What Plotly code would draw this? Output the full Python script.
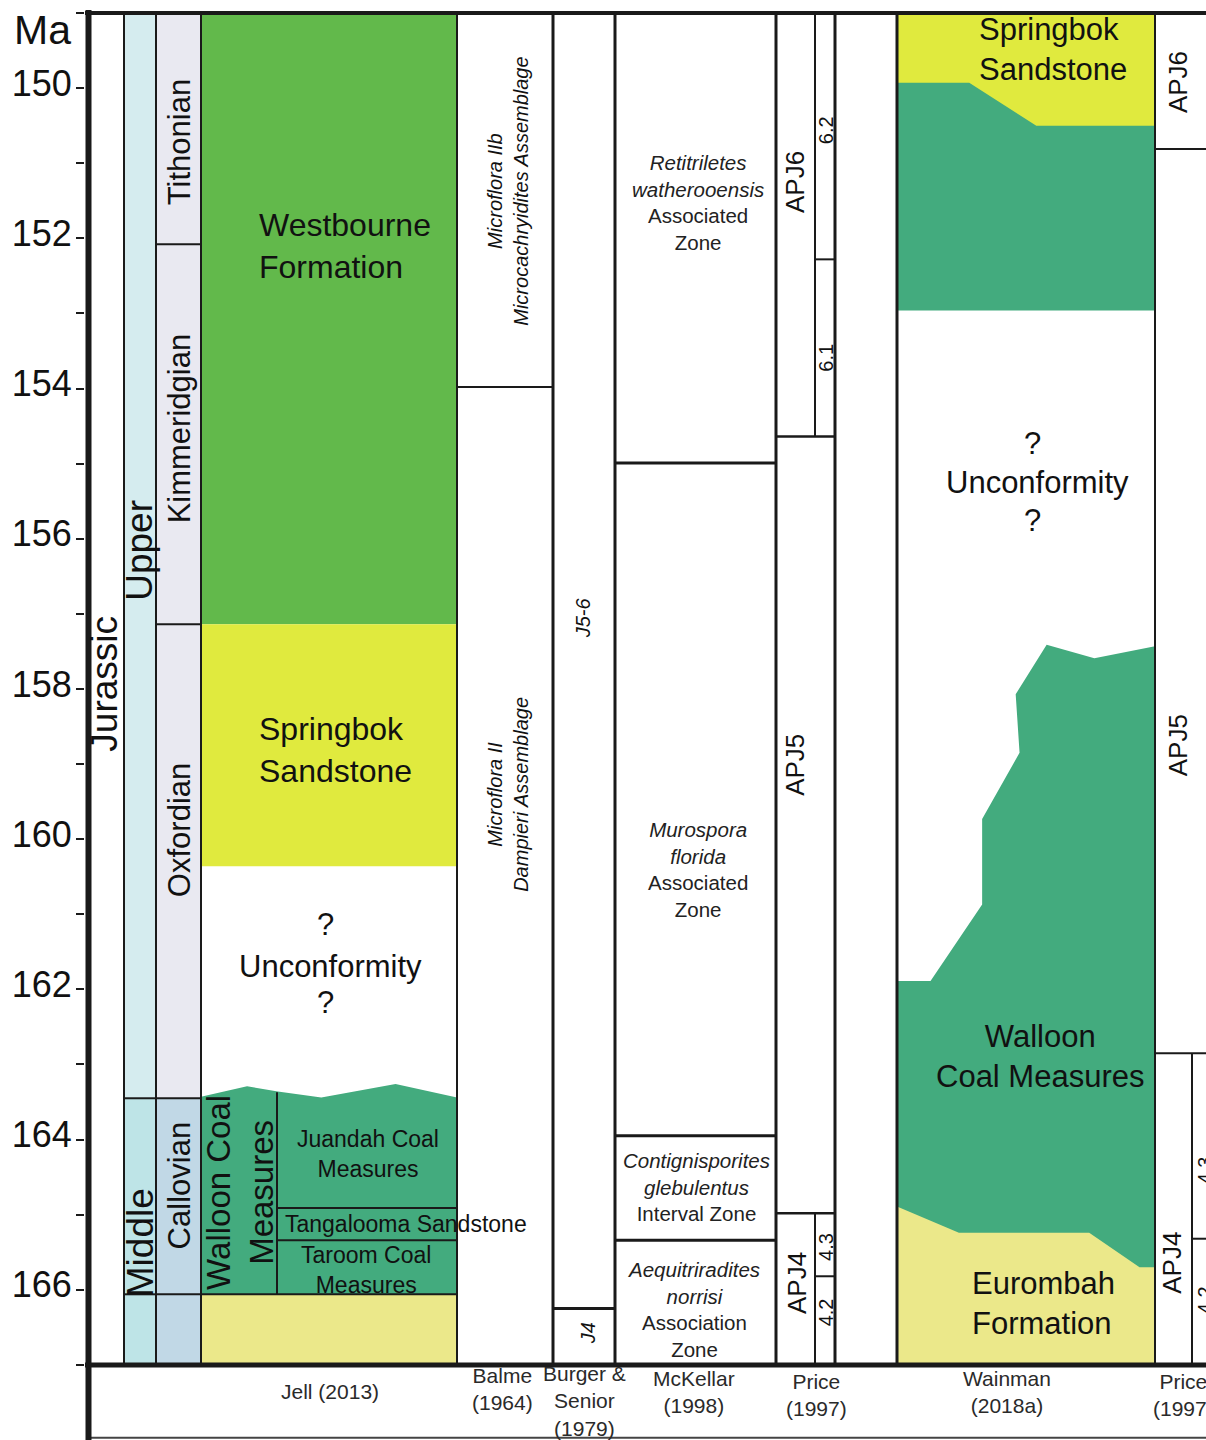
import plotly.graph_objects as go

# ---------------- Chronostratigraphy (ages in Ma) ----------------
EPOCHS = ["Upper", "Middle"]
EPOCH_BOUNDS = [149.0, 163.45, 167.0]
STAGES = ["Tithonian", "Kimmeridgian", "Oxfordian", "Callovian", ""]
STAGE_BOUNDS = [149.0, 152.08, 157.14, 163.45, 166.06, 167.0]

# ---------------- Jell (2013) lithostratigraphy ----------------
JELL_UNITS = ["Westbourne Formation", "Springbok Sandstone", "Unconformity",
              "Walloon Coal Measures", "Eurombah Formation"]
JELL_BOUNDS = [149.0, 157.14, 160.36, 163.45, 166.06, 167.0]
WALLOON_MEMBERS = ["Juandah Coal Measures", "Tangalooma Sandstone", "Taroom Coal Measures"]
WALLOON_MEMBER_BOUNDS = [163.37, 164.91, 165.34, 166.06]
# irregular top of the Walloon Coal Measures (fraction across column, age)
JELL_WALLOON_TOP_FRAC = [0.0, 0.18, 0.30, 0.47, 0.76, 1.0]
JELL_WALLOON_TOP_AGE = [163.43, 163.29, 163.36, 163.44, 163.26, 163.44]

# ---------------- Palynostratigraphic schemes ----------------
BALME_ZONES = ["<i>Microflora IIb</i><br><i>Microcachryidites Assemblage</i>",
               "<i>Microflora II</i><br><i>Dampieri Assemblage</i>"]
BALME_BOUNDS = [149.0, 153.98, 167.0]

BURGER_ZONES = ["<i>J5-6</i>", "<i>J4</i>"]
BURGER_BOUNDS = [149.0, 166.25, 167.0]

MCKELLAR_ZONES = ["<i>Retitriletes</i><br><i>watherooensis</i><br>Associated<br>Zone",
                  "<i>Murospora</i><br><i>florida</i><br>Associated<br>Zone",
                  "<i>Contignisporites</i><br><i>glebulentus</i><br>Interval Zone",
                  "<i>Aequitriradites</i><br><i>norrisi</i><br>Association<br>Zone"]
MCKELLAR_BOUNDS = [149.0, 154.99, 163.95, 165.34, 167.0]

PRICE_ZONES = ["APJ6", "APJ5", "APJ4"]
PRICE_BOUNDS = [149.0, 154.64, 164.98, 167.0]
PRICE_SUBZONES = ["6.2", "6.1", "4.3", "4.2"]
PRICE_SUBZONE_TOPS = [149.0, 152.28, 164.98, 165.82]
PRICE_SUBZONE_BASES = [152.28, 154.64, 165.82, 167.0]

# ---------------- Wainman (2018a) ----------------
WAINMAN_SPRINGBOK_BASE_FRAC = [0.0, 0.28, 0.54, 1.0]
WAINMAN_SPRINGBOK_BASE_AGE = [149.93, 149.93, 150.50, 150.50]
WAINMAN_UPPER_GREEN_BASE = 152.96
WAINMAN_WALLOON_TOP_FRAC = [0.0, 0.13, 0.33, 0.33, 0.475, 0.46, 0.58, 0.765, 1.0]
WAINMAN_WALLOON_TOP_AGE = [161.89, 161.89, 160.87, 159.73, 158.85, 158.07, 157.41, 157.59, 157.43]
WAINMAN_EUROMBAH_TOP_FRAC = [0.0, 0.24, 0.745, 0.94, 1.0]
WAINMAN_EUROMBAH_TOP_AGE = [164.89, 165.24, 165.24, 165.70, 165.70]

PRICE2_ZONES = ["APJ6", "APJ5", "APJ4"]
PRICE2_BOUNDS = [149.0, 150.81, 162.85, 167.0]
PRICE2_SUBZONES = ["4.3", "4.2"]
PRICE2_SUB_BOUNDS = [162.85, 165.32, 167.0]

SOURCES = ["Jell (2013)", "Balme<br>(1964)", "Burger &<br>Senior<br>(1979)", "McKellar<br>(1998)",
           "Price<br>(1997)", "Wainman<br>(2018a)", "Price<br>(1997)"]

Y_TICKS = list(range(149, 168))

# ---------------- layout constants (horizontal columns, px-like units) ----------------
X0 = 85
XMAX = 1206
AX = 88.5
COL_JUR = (91, 124)
COL_EPOCH = (124, 156)
COL_STAGE = (156, 201)
COL_JELL = (201, 457)
JELL_SPLIT = 277
COL_BALME = (457, 553)
COL_BURGER = (553, 615)
COL_MCK = (615, 776)
COL_PRICE = (776, 835)
PRICE_SPLIT = 815
COL_WAIN = (897, 1155)
PRICE2_SPLIT = 1192

C_WEST = "#62b94b"
C_SPRING = "#e0ea3e"
C_WALLOON = "#43ab7e"
C_EUROMBAH = "#ebe88a"
C_UPPER = "#d5ecef"
C_MIDDLE = "#bee4e7"
C_STAGE_U = "#e9e9f1"
C_STAGE_M = "#c1d8e6"
INK = "#1a1a1a"
FONT = "Liberation Sans, Arial, sans-serif"

fig = go.Figure()


def poly(xs, ys, color):
    fig.add_trace(go.Scatter(x=xs, y=ys, mode="lines", fill="toself", fillcolor=color,
                             line=dict(width=0, color=color), hoverinfo="skip", showlegend=False))


def rect(x0, x1, y0, y1, color):
    poly([x0, x1, x1, x0, x0], [y0, y0, y1, y1, y0], color)


def hline(y, x0, x1, w=2, color=INK):
    fig.add_shape(type="line", xref="x", yref="y", x0=x0, x1=x1, y0=y, y1=y,
                  line=dict(color=color, width=w), layer="above")


def vline(x, y0, y1, w=2, color=INK):
    fig.add_shape(type="line", xref="x", yref="y", x0=x, x1=x, y0=y0, y1=y1,
                  line=dict(color=color, width=w), layer="above")


def label(x, y, text, size, angle=0, xanchor="center", align="center", color="#111111"):
    fig.add_annotation(x=x, y=y, xref="x", yref="y", text=text, showarrow=False,
                       textangle=angle, xanchor=xanchor, yanchor="middle", align=align,
                       font=dict(family=FONT, size=size, color=color))


# ---- epoch / stage columns ----
epoch_colors = [C_UPPER, C_MIDDLE]
for i, name in enumerate(EPOCHS):
    rect(COL_EPOCH[0], COL_EPOCH[1], EPOCH_BOUNDS[i], EPOCH_BOUNDS[i + 1], epoch_colors[i])
stage_colors = [C_STAGE_U, C_STAGE_U, C_STAGE_U, C_STAGE_M, C_STAGE_M]
for i, name in enumerate(STAGES):
    rect(COL_STAGE[0], COL_STAGE[1], STAGE_BOUNDS[i], STAGE_BOUNDS[i + 1], stage_colors[i])

# ---- Jell column ----
jw = COL_JELL[1] - COL_JELL[0]
rect(COL_JELL[0], COL_JELL[1], JELL_BOUNDS[0], JELL_BOUNDS[1], C_WEST)
rect(COL_JELL[0], COL_JELL[1], JELL_BOUNDS[1], JELL_BOUNDS[2], C_SPRING)
top_x = [COL_JELL[0] + f * jw for f in JELL_WALLOON_TOP_FRAC]
poly(top_x + [COL_JELL[1], COL_JELL[0], top_x[0]],
     JELL_WALLOON_TOP_AGE + [JELL_BOUNDS[4], JELL_BOUNDS[4], JELL_WALLOON_TOP_AGE[0]], C_WALLOON)
rect(COL_JELL[0], COL_JELL[1], JELL_BOUNDS[4], JELL_BOUNDS[5], C_EUROMBAH)

# ---- Wainman column ----
ww = COL_WAIN[1] - COL_WAIN[0]
sx = [COL_WAIN[0] + f * ww for f in WAINMAN_SPRINGBOK_BASE_FRAC]
rect(COL_WAIN[0], COL_WAIN[1], 149.0, WAINMAN_UPPER_GREEN_BASE, C_WALLOON)
poly([COL_WAIN[0]] + sx + [COL_WAIN[1], COL_WAIN[0]],
     [149.0] + WAINMAN_SPRINGBOK_BASE_AGE + [149.0, 149.0], C_SPRING)
wx = [COL_WAIN[0] + f * ww for f in WAINMAN_WALLOON_TOP_FRAC]
poly(wx + [COL_WAIN[1], COL_WAIN[0], wx[0]],
     WAINMAN_WALLOON_TOP_AGE + [167.0, 167.0, WAINMAN_WALLOON_TOP_AGE[0]], C_WALLOON)
ex = [COL_WAIN[0] + f * ww for f in WAINMAN_EUROMBAH_TOP_FRAC]
poly(ex + [COL_WAIN[1], COL_WAIN[0], ex[0]],
     WAINMAN_EUROMBAH_TOP_AGE + [167.0, 167.0, WAINMAN_EUROMBAH_TOP_AGE[0]], C_EUROMBAH)

# ---- boundary lines ----
for x, w in [(COL_EPOCH[0], 2), (COL_STAGE[0], 2), (COL_JELL[0], 2), (COL_BALME[0], 2),
             (COL_BURGER[0], 3), (COL_MCK[0], 3), (COL_PRICE[0], 3), (COL_PRICE[1], 3),
             (COL_WAIN[0], 3), (COL_WAIN[1], 2)]:
    vline(x, 149.0, 167.0, w)
hline(EPOCH_BOUNDS[1], COL_EPOCH[0], COL_EPOCH[1])
hline(STAGE_BOUNDS[4], COL_EPOCH[0], COL_EPOCH[1])
for b in STAGE_BOUNDS[1:-1]:
    hline(b, COL_STAGE[0], COL_STAGE[1])
vline(JELL_SPLIT, WALLOON_MEMBER_BOUNDS[0], WALLOON_MEMBER_BOUNDS[-1])
for b in WALLOON_MEMBER_BOUNDS[1:-1]:
    hline(b, JELL_SPLIT, COL_JELL[1])
hline(JELL_BOUNDS[4], COL_JELL[0], COL_JELL[1])
for b in BALME_BOUNDS[1:-1]:
    hline(b, COL_BALME[0], COL_BALME[1])
for b in BURGER_BOUNDS[1:-1]:
    hline(b, COL_BURGER[0], COL_BURGER[1], 3)
for b in MCKELLAR_BOUNDS[1:-1]:
    hline(b, COL_MCK[0], COL_MCK[1], 3)
for b in PRICE_BOUNDS[1:-1]:
    hline(b, COL_PRICE[0], COL_PRICE[1], 2.5)
vline(PRICE_SPLIT, PRICE_BOUNDS[0], PRICE_BOUNDS[1])
vline(PRICE_SPLIT, PRICE_BOUNDS[2], PRICE_BOUNDS[3])
hline(PRICE_SUBZONE_BASES[0], PRICE_SPLIT, COL_PRICE[1])
hline(PRICE_SUBZONE_BASES[2], PRICE_SPLIT, COL_PRICE[1])
for b in PRICE2_BOUNDS[1:-1]:
    hline(b, COL_WAIN[1], XMAX)
vline(PRICE2_SPLIT, PRICE2_SUB_BOUNDS[0], PRICE2_SUB_BOUNDS[-1])
hline(PRICE2_SUB_BOUNDS[1], PRICE2_SPLIT, XMAX)

# frame
hline(149.0, X0, XMAX, 4)
hline(167.0, X0, XMAX, 5)
hline(167.97, AX, XMAX, 2, "#444444")
vline(AX, 148.96, 168.0, 6)

# ---- labels: time scale ----
label(105, 157.93, "Jurassic", 37, -90)
label(140, 156.16, EPOCHS[0], 37, -90)
label(140, 165.38, EPOCHS[1], 37, -90)
for name, y in zip(STAGES[:4], [150.72, 154.53, 159.88, 164.61]):
    label(179, y, name, 31, -90)

# ---- labels: Jell ----
label(257, 152.10, "Westbourne<br>Formation", 32, xanchor="left", align="left")
label(257, 158.81, "Springbok<br>Sandstone", 32, xanchor="left", align="left")
label(325, 161.14, "?", 31)
label(330, 161.69, JELL_UNITS[2], 31)
label(325, 162.18, "?", 31)
label(240, 164.71, "Walloon Coal<br>Measures", 33, -90)
label(368, 164.19, "Juandah Coal<br>Measures", 23)
label(283, 165.12, WALLOON_MEMBERS[1], 23, xanchor="left", align="left")
label(366, 165.74, "Taroom Coal<br>Measures", 23)

# ---- labels: palynology ----
label(508, 151.38, BALME_ZONES[0], 20, -90)
label(508, 159.41, BALME_ZONES[1], 20, -90)
label(583, 157.06, BURGER_ZONES[0], 20, -90)
label(588, 166.58, BURGER_ZONES[1], 20, -90)
for txt, y, x in zip(MCKELLAR_ZONES, [151.52, 160.40, 164.63, 166.26], [698, 698, 696, 693]):
    label(x, y, txt, 20.5, color="#222222")
label(795, 151.25, PRICE_ZONES[0], 26, -90)
label(795, 159.01, PRICE_ZONES[1], 26, -90)
label(797, 165.91, PRICE_ZONES[2], 26, -90)
for txt, y in zip(PRICE_SUBZONES, [150.56, 153.59, 165.43, 166.30]):
    label(826, y, txt, 20, -90)

# ---- labels: Wainman ----
label(977, 149.49, "Springbok<br>Sandstone", 31, xanchor="left", align="left")
label(1032, 154.73, "?", 31)
label(1037, 155.25, "Unconformity", 31)
label(1032, 155.76, "?", 31)
label(1040, 162.89, "Walloon<br>Coal Measures", 31)
label(970, 166.18, "Eurombah<br>Formation", 31, xanchor="left", align="left")
label(1178, 149.92, PRICE2_ZONES[0], 26, -90)
label(1178, 158.75, PRICE2_ZONES[1], 26, -90)
label(1172, 165.64, PRICE2_ZONES[2], 26, -90)
for txt, y in zip(PRICE2_SUBZONES, [164.41, 166.14]):
    label(1205, y, txt, 20, -90)

# ---- source labels ----
for txt, x, y in zip(SOURCES, [330, 502, 584, 694, 816, 1007, 1183],
                     [167.35, 167.32, 167.48, 167.36, 167.40, 167.36, 167.40]):
    label(x, y, txt, 21, color="#2a2a2a")

# axis unit
fig.add_annotation(x=-0.0375, y=149.22, xref="paper", yref="y", text="Ma", showarrow=False,
                   xanchor="center", yanchor="middle", font=dict(family=FONT, size=41, color="#111111"))

fig.update_layout(
    width=1206, height=1440,
    margin=dict(l=X0, r=0, t=10, b=0),
    paper_bgcolor="white", plot_bgcolor="white",
    xaxis=dict(range=[X0, XMAX], visible=False, fixedrange=True),
    yaxis=dict(range=[168.0, 148.96], showgrid=False, zeroline=False, showline=False,
               tickmode="array", tickvals=Y_TICKS,
               ticktext=[str(v) if (v % 2 == 0 and 150 <= v <= 166) else "" for v in Y_TICKS],
               ticks="outside", ticklen=8, tickwidth=2, tickcolor=INK,
               ticklabelshift=5, ticklabelstandoff=-3,
               tickfont=dict(family=FONT, size=36, color="#111111"), fixedrange=True),
    showlegend=False,
)

fig.write_html("out.html")
